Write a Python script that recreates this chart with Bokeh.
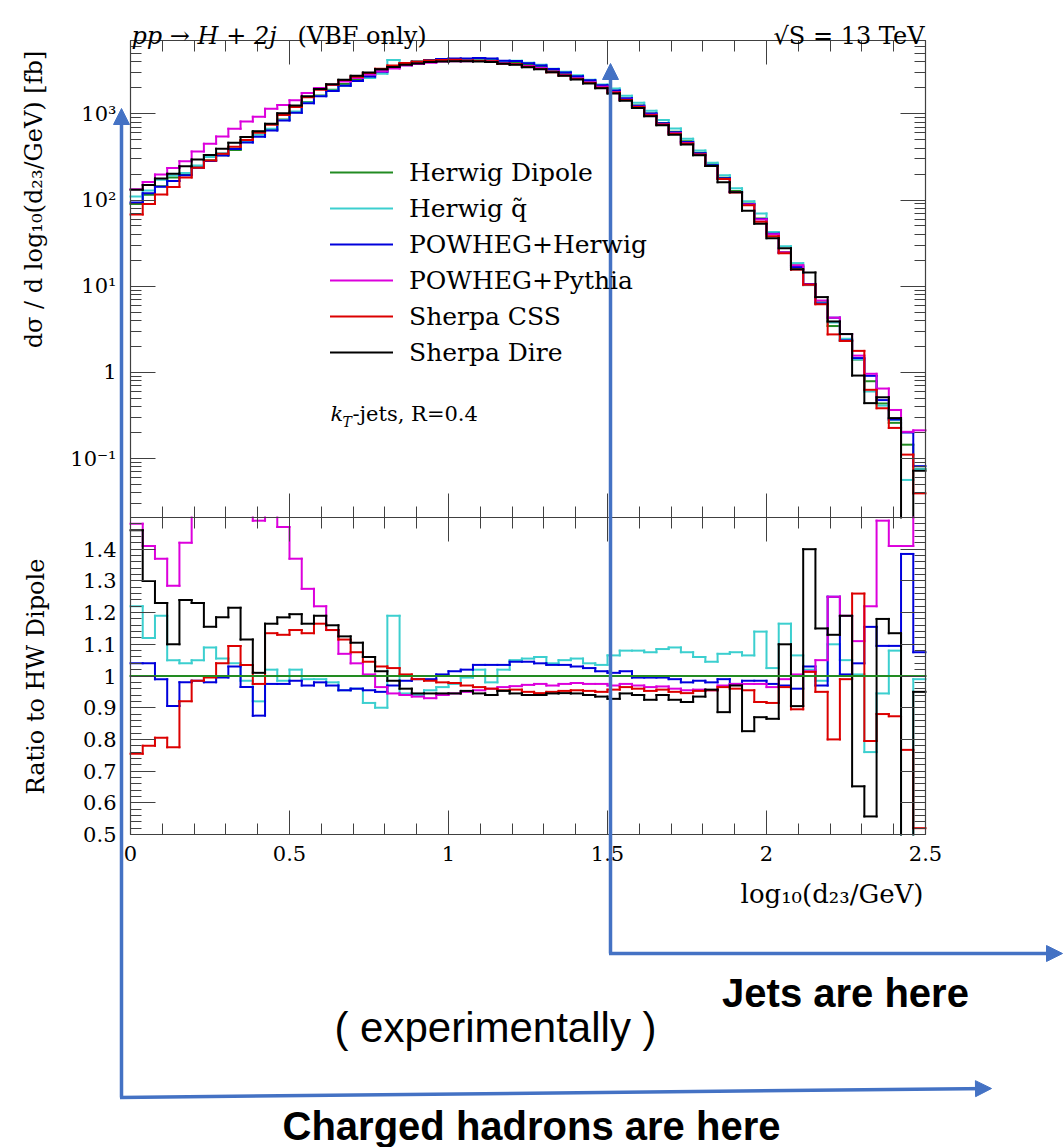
import numpy as np
from bokeh.plotting import figure
from bokeh.models import (Range1d, LinearAxis, LogAxis, LogScale, FixedTicker, Label, Arrow,
                          NormalHead, Legend, LegendItem, ColumnDataSource)
from bokeh.embed import file_html
from bokeh.resources import INLINE

# ------------------------------------------------------------------ data
X_MIN, X_MAX, N_BINS = 0.0, 2.5, 65

# Herwig Dipole reference histogram, d sigma / d log10(d23/GeV) [fb]
herwig_dipole = [90, 115, 144, 183, 198, 240, 289, 331, 380, 481,
                 620, 658, 858, 1045, 1370, 1630, 1900, 2210, 2500, 2840,
                 3230, 3540, 3870, 4050, 4210, 4290, 4320, 4285, 4280, 4235,
                 3990, 3920, 3700, 3490, 3200, 2920, 2650, 2390, 2110, 1850,
                 1495, 1245, 1010, 783, 618, 479, 353, 259, 181, 127,
                 91, 61, 41.6, 25, 17.4, 10.3, 6.5, 3.45, 2.34, 1.41,
                 0.79, 0.436, 0.26, 0.145, 0.076]

# ratios to Herwig Dipole
ratio_herwig_qtilde = [1.22, 1.12, 1.19, 1.05, 1.04, 1.05, 1.09, 1.055, 1.04, 0.985,
                       0.92, 1.02, 0.985, 1.02, 0.99, 0.99, 0.98, 0.955, 0.96, 0.915,
                       0.90, 1.19, 0.945, 0.94, 0.955, 0.965, 0.975, 0.995, 1.02, 0.98,
                       1.02, 1.05, 1.055, 1.06, 1.04, 1.05, 1.055, 1.04, 1.035, 1.065,
                       1.08, 1.08, 1.075, 1.085, 1.09, 1.075, 1.06, 1.045, 1.07, 1.075,
                       1.065, 1.14, 1.025, 1.165, 1.065, 1.02, 0.985, 1.10, 1.05, 1.005,
                       0.76, 0.945, 1.08, 0.39, 0.99]
ratio_powheg_herwig = [1.04, 1.04, 0.99, 0.905, 0.98, 0.985, 0.98, 0.995, 1.03, 0.965,
                       0.875, 0.975, 0.975, 0.985, 0.97, 0.98, 0.97, 0.955, 0.96, 0.955,
                       0.95, 0.97, 0.985, 0.99, 0.99, 1.005, 1.015, 1.02, 1.035, 1.035,
                       1.035, 1.045, 1.045, 1.04, 1.035, 1.035, 1.03, 1.025, 1.015, 1.01,
                       1.015, 0.995, 0.995, 0.995, 0.99, 0.98, 0.985, 0.98, 0.99, 0.975,
                       0.985, 0.985, 0.975, 0.97, 0.96, 1.03, 0.97, 1.25, 1.005, 1.04,
                       1.155, 1.095, 1.095, 1.385, 1.075]
ratio_powheg_pythia = [1.48, 1.41, 1.37, 1.285, 1.42, 1.52, 1.55, 1.65, 1.76, 1.69,
                       1.49, 1.74, 1.47, 1.37, 1.275, 1.22, 1.145, 1.07, 1.04, 1.005,
                       0.965, 0.945, 0.94, 0.935, 0.93, 0.94, 0.945, 0.95, 0.955, 0.96,
                       0.965, 0.968, 0.972, 0.975, 0.97, 0.975, 0.978, 0.975, 0.975, 0.97,
                       0.975, 0.97, 0.965, 0.967, 0.96, 0.955, 0.957, 0.955, 0.97, 0.975,
                       0.975, 0.975, 0.965, 0.99, 1.005, 1.015, 1.05, 1.25, 1.19, 1.11,
                       1.22, 1.49, 1.41, 1.41, 2.8]
ratio_sherpa_css = [0.755, 0.78, 0.805, 0.775, 0.92, 0.985, 0.995, 1.04, 1.095, 1.035,
                    0.975, 1.135, 1.13, 1.145, 1.135, 1.165, 1.145, 1.115, 1.075, 1.045,
                    1.03, 1.025, 1.005, 0.99, 0.985, 0.98, 0.978, 0.97, 0.965, 0.96,
                    0.955, 0.957, 0.95, 0.946, 0.95, 0.953, 0.955, 0.953, 0.95, 0.957,
                    0.965, 0.96, 0.953, 0.957, 0.95, 0.946, 0.953, 0.955, 0.965, 0.96,
                    0.955, 0.918, 0.915, 0.965, 0.895, 1.013, 0.95, 0.80, 0.99, 1.26,
                    0.795, 0.88, 0.873, 0.767, 0.52]
ratio_sherpa_dire = [1.46, 1.30, 1.23, 1.10, 1.24, 1.23, 1.155, 1.185, 1.215, 1.115,
                     1.01, 1.165, 1.185, 1.195, 1.165, 1.19, 1.16, 1.125, 1.105, 1.06,
                     1.015, 0.985, 0.96, 0.945, 0.945, 0.945, 0.945, 0.953, 0.945, 0.94,
                     0.953, 0.945, 0.94, 0.94, 0.945, 0.946, 0.945, 0.94, 0.935, 0.928,
                     0.945, 0.94, 0.925, 0.94, 0.925, 0.918, 0.935, 0.957, 0.886, 0.97,
                     0.826, 0.87, 0.865, 1.10, 0.905, 1.40, 1.15, 1.13, 1.19, 0.652,
                     0.557, 1.18, 1.135, 0.0, 0.95]

series_labels = ["Herwig Dipole", "Herwig q\u0303", "POWHEG+Herwig",
                 "POWHEG+Pythia", "Sherpa CSS", "Sherpa Dire"]
series_colors = ["#228b22", "#3ccfcf", "#0000dc", "#dc00dc", "#dc0000", "#000000"]

x_ticks = [0, 0.5, 1, 1.5, 2, 2.5]
x_tick_labels = ["0", "0.5", "1", "1.5", "2", "2.5"]
main_y_ticks = [0.1, 1, 10, 100, 1000]
main_y_tick_labels = ["10\u207b\u00b9", "1", "10\u00b9", "10\u00b2", "10\u00b3"]
ratio_y_ticks = [0.5, 0.6, 0.7, 0.8, 0.9, 1.0, 1.1, 1.2, 1.3, 1.4]
ratio_y_tick_labels = ["0.5", "0.6", "0.7", "0.8", "0.9", "1", "1.1", "1.2", "1.3", "1.4"]

# ------------------------------------------------------------------ page geometry (px)
PAGE_W, PAGE_H = 1063, 1147
FL, FR = 130, 925          # frame left / right
MT, MB = 40, 517           # main panel top / bottom
RT, RB = 517, 834          # ratio panel top / bottom
Y3_PX, DEC_PX = 113.3, 86.2  # pixel row of 10^3 and pixels per decade
R_MIN, R_MAX = 0.5, 1.5

SERIF = "DejaVu Serif"
SANS = "Liberation Sans"
FRAME = "#404040"
BLUE = "#4472c4"


def x_of_px(px):
    return X_MIN + (px - FL) * (X_MAX - X_MIN) / (FR - FL)


def log_of_py(py):
    return 3 - (py - Y3_PX) / DEC_PX


def r_of_py(py):
    return R_MAX - (py - RT) * (R_MAX - R_MIN) / (RB - RT)


M_LO, M_HI = 10 ** log_of_py(MB), 10 ** log_of_py(MT)

edges = np.linspace(X_MIN, X_MAX, N_BINS + 1)
ratios = [np.ones(N_BINS), np.array(ratio_herwig_qtilde), np.array(ratio_powheg_herwig),
          np.array(ratio_powheg_pythia), np.array(ratio_sherpa_css), np.array(ratio_sherpa_dire)]
dip = np.array(herwig_dipole, dtype=float)
mains = [dip * r for r in ratios]

x_minor = [round(0.1 * i, 1) for i in range(26)]
main_minor = [k * 10.0 ** n for n in range(-2, 4) for k in range(2, 10)
              if M_LO <= k * 10.0 ** n <= M_HI]
ratio_minor = [round(0.5 + 0.02 * i, 2) for i in range(51)]


def hist_segments(values, lo, hi):
    """Step outline of a histogram, clipped to the panel's value interval."""
    x0, y0, x1, y1 = [], [], [], []
    clip = lambda v: min(max(v, lo), hi)
    for i, v in enumerate(values):
        if lo <= v <= hi:
            x0.append(edges[i]); x1.append(edges[i + 1]); y0.append(v); y1.append(v)
        if i + 1 < len(values):
            a, b = clip(v), clip(values[i + 1])
            if a != b:
                x0.append(edges[i + 1]); x1.append(edges[i + 1]); y0.append(a); y1.append(b)
    return ColumnDataSource(dict(x0=x0, y0=y0, x1=x1, y1=y1))


# ------------------------------------------------------------------ figure (frame = page)
p = figure(width=PAGE_W, height=PAGE_H,
           x_range=Range1d(0, PAGE_W), y_range=Range1d(PAGE_H, 0),
           x_axis_location=None, y_axis_location=None,
           min_border=0, min_border_left=0, min_border_right=0,
           min_border_top=0, min_border_bottom=0,
           output_backend="svg", toolbar_location=None,
           background_fill_color="white", border_fill_color="white",
           outline_line_color=None)
p.grid.visible = False
p.extra_x_ranges = {"d": Range1d(x_of_px(0), x_of_px(PAGE_W))}
p.extra_y_ranges = {"main": Range1d(10 ** log_of_py(PAGE_H), 10 ** log_of_py(0)),
                    "ratio": Range1d(r_of_py(PAGE_H), r_of_py(0))}
p.extra_y_scales = {"main": LogScale()}


def add_axis(kind, side, yname, loc, bounds, ticks, minor, labels=None,
             major_len=25, minor_len=11, standoff=12):
    ax = kind(x_range_name="d", y_range_name=yname, fixed_location=loc, bounds=bounds,
              ticker=FixedTicker(ticks=ticks, minor_ticks=minor))
    ax.major_tick_in = major_len
    ax.major_tick_out = 0
    ax.minor_tick_in = minor_len
    ax.minor_tick_out = 0
    ax.axis_line_color = FRAME
    ax.axis_line_width = 1.2
    ax.major_tick_line_color = FRAME
    ax.minor_tick_line_color = FRAME
    if labels is not None:
        ax.major_label_overrides = {t: l for t, l in zip(ticks, labels)}
        ax.major_label_text_font = SERIF
        ax.major_label_text_font_size = "21px"
        ax.major_label_text_color = "black"
        ax.major_label_standoff = standoff
    else:
        ax.major_label_overrides = {t: "" for t in ticks}
        ax.major_label_text_font_size = "0px"
        ax.major_label_standoff = 0
    p.add_layout(ax, side)
    return ax


# main panel frame / axes
add_axis(LogAxis, "left", "main", X_MIN, (M_LO, M_HI), main_y_ticks, main_minor,
         main_y_tick_labels, standoff=14)
add_axis(LogAxis, "right", "main", X_MAX, (M_LO, M_HI), main_y_ticks, main_minor)
add_axis(LinearAxis, "above", "main", M_HI, (X_MIN, X_MAX), x_ticks, x_minor, major_len=24)
add_axis(LinearAxis, "below", "main", M_LO, (X_MIN, X_MAX), x_ticks, x_minor, major_len=24)

# ratio panel frame / axes
add_axis(LinearAxis, "left", "ratio", X_MIN, (R_MIN, R_MAX), ratio_y_ticks, ratio_minor,
         ratio_y_tick_labels, standoff=14)
add_axis(LinearAxis, "right", "ratio", X_MAX, (R_MIN, R_MAX), ratio_y_ticks, ratio_minor)
add_axis(LinearAxis, "above", "ratio", R_MAX, (X_MIN, X_MAX), x_ticks, x_minor, major_len=24)
add_axis(LinearAxis, "below", "ratio", R_MIN, (X_MIN, X_MAX), x_ticks, x_minor,
         x_tick_labels, major_len=24, standoff=11)

# histograms (main panel)
items = []
for name, col, vals in zip(series_labels, series_colors, mains):
    r = p.segment("x0", "y0", "x1", "y1", source=hist_segments(vals, M_LO, M_HI),
                  x_range_name="d", y_range_name="main",
                  line_color=col, line_width=2, line_cap="square")
    items.append(LegendItem(label=name, renderers=[r]))

# ratios (lower panel); reference line drawn last
for i in [1, 2, 3, 4, 5, 0]:
    p.segment("x0", "y0", "x1", "y1", source=hist_segments(ratios[i], R_MIN, R_MAX),
              x_range_name="d", y_range_name="ratio",
              line_color=series_colors[i], line_width=2, line_cap="square")

legend = Legend(items=items, location=(330, PAGE_H - 367), glyph_width=63, glyph_height=30,
                label_height=30, label_standoff=16, spacing=6, padding=0, margin=0,
                border_line_color=None, background_fill_alpha=0,
                label_text_font=SERIF, label_text_font_size="25px",
                label_text_color="black")
p.add_layout(legend)


def label(x, y, text, size, font=SERIF, style="normal", align="left",
          baseline="middle", angle=0, color="black"):
    p.add_layout(Label(x=x, y=y, text=text, text_font=font, text_font_size=size,
                       text_font_style=style, text_align=align, text_baseline=baseline,
                       angle=angle, angle_units="deg", text_color=color))


label(131, 35, "pp \u2192 H + 2j", "24px", style="italic", baseline="alphabetic")
label(297, 35, "(VBF only)", "24px", baseline="alphabetic")
label(924, 35, "\u221aS = 13 TeV", "24px", align="right", baseline="alphabetic")
label(330, 413, "k", "21px", style="italic")
label(342, 421, "T", "14px", style="italic")
label(352, 413, "-jets, R=0.4", "21px")
label(33, 199, "d\u03c3 / d log\u2081\u2080(d\u2082\u2083/GeV) [fb]", "24px",
      align="center", angle=90)
label(35.5, 676, "Ratio to HW Dipole", "24px", align="center", angle=90)
label(923, 893, "log\u2081\u2080(d\u2082\u2083/GeV)", "26px", align="right")

label(845, 992, "Jets are here", "40px", font=SANS, style="bold", align="center")
label(495, 1027, "( experimentally )", "42px", font=SANS, align="center")
label(531, 1125, "Charged hadrons are here", "40px", font=SANS, style="bold", align="center")

# blue annotation arrows
head = lambda: NormalHead(size=16, fill_color=BLUE, line_color=BLUE)
p.add_layout(Arrow(end=head(), x_start=121, y_start=1097, x_end=121, y_end=108,
                   line_color=BLUE, line_width=3.5))
p.add_layout(Arrow(end=head(), x_start=119.5, y_start=1097, x_end=991, y_end=1088,
                   line_color=BLUE, line_width=3.5))
p.add_layout(Arrow(end=head(), x_start=610, y_start=953, x_end=610, y_end=63,
                   line_color=BLUE, line_width=3.5))
p.add_layout(Arrow(end=head(), x_start=608.5, y_start=953, x_end=1062, y_end=953,
                   line_color=BLUE, line_width=3.5))

open("out.html", "w").write(file_html(p, INLINE))
